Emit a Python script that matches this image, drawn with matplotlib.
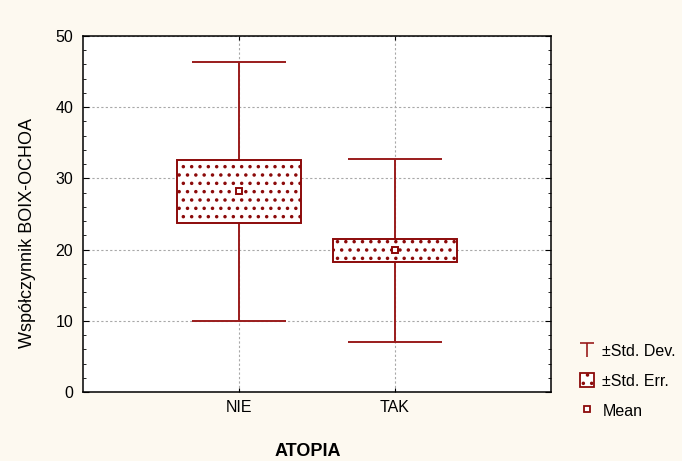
import matplotlib
matplotlib.use("Agg")
import matplotlib.pyplot as plt
from matplotlib.lines import Line2D
from matplotlib.patches import Patch
from matplotlib.path import Path
from matplotlib.ticker import MultipleLocator
import numpy as np

categories = ["NIE", "TAK"]
means = [28.2, 19.9]
std_err = [4.45, 1.6]
std_dev = [18.2, 12.85]
y_ticks = [0, 10, 20, 30, 40, 50]

DARK = "#8c0a0a"
LINE = "#9a1c1c"
BG = "#FDF9F0"

plt.rcParams["font.family"] = ["Liberation Sans", "DejaVu Sans"]
plt.rcParams["hatch.linewidth"] = 1.3

fig = plt.figure(figsize=(6.82, 4.61), dpi=100, facecolor=BG)
ax = fig.add_axes([0.1217, 0.1497, 0.6862, 0.7722])
ax.set_facecolor("white")

x = np.arange(1, len(categories) + 1)
m = np.array(means)
se = np.array(std_err)
sd = np.array(std_dev)

# whiskers (±SD)
ax.vlines(x, m - sd, m + sd, color=LINE, lw=1.4, zorder=2)
ax.hlines(m + sd, x - 0.3, x + 0.3, color=LINE, lw=1.4, zorder=2)
ax.hlines(m - sd, x - 0.3, x + 0.3, color=LINE, lw=1.4, zorder=2)
# boxes (±SE)
ax.bar(x, 2 * se, bottom=m - se, width=0.79, facecolor="white",
       edgecolor=DARK, hatch="..", lw=1.4, zorder=3)
# means
ax.plot(x, m, ls="none", marker="s", ms=5, mfc="white", mec=DARK, mew=1.4, zorder=4)

ax.set_xlim(0, 3)
ax.set_ylim(0, 50)
ax.set_xticks(x)
ax.set_xticklabels(categories, fontsize=11.5)
ax.set_yticks(y_ticks)
ax.set_yticklabels([str(v) for v in y_ticks], fontsize=11.5)
ax.yaxis.set_minor_locator(MultipleLocator(2))
ax.tick_params(axis="y", which="both", direction="in", left=True, right=True, pad=7)
ax.tick_params(axis="y", which="major", length=4)
ax.tick_params(axis="y", which="minor", length=2.5)
ax.tick_params(axis="x", direction="in", length=3, top=True, pad=6)
ax.grid(True, which="major", color="#a8a8a8", ls=(0, (2, 2)), lw=0.8, zorder=0)
ax.set_axisbelow(True)
for s in ax.spines.values():
    s.set_linewidth(1.1)
    s.set_color("black")

ax.set_ylabel("Współczynnik BOIX-OCHOA", fontsize=13)
ax.yaxis.set_label_coords(-0.1, 0.447)
ax.set_xlabel("ATOPIA", fontsize=13, fontweight="bold")
ax.xaxis.set_label_coords(0.481, -0.143)

tee = Path([(-1, 1), (1, 1), (0, 1), (0, -1)],
           [Path.MOVETO, Path.LINETO, Path.MOVETO, Path.LINETO])
handles = [
    Line2D([], [], ls="none", marker=tee, ms=10, mec=LINE, mew=1.2),
    Patch(facecolor="white", edgecolor=DARK, hatch="..", lw=1.3),
    Line2D([], [], ls="none", marker="s", ms=4.5, mfc="white", mec=DARK, mew=1.3),
]
labels = ["±Std. Dev.", "±Std. Err.", "Mean"]
fig.legend(handles, labels, loc="center left", bbox_to_anchor=(580 / 682, 1 - 381 / 461),
           frameon=False, fontsize=11.5, labelspacing=0.9, handlelength=0.9,
           handletextpad=0.5, handleheight=1.0, borderpad=0, borderaxespad=0)

fig.savefig("out.png", dpi=100, facecolor=BG)
